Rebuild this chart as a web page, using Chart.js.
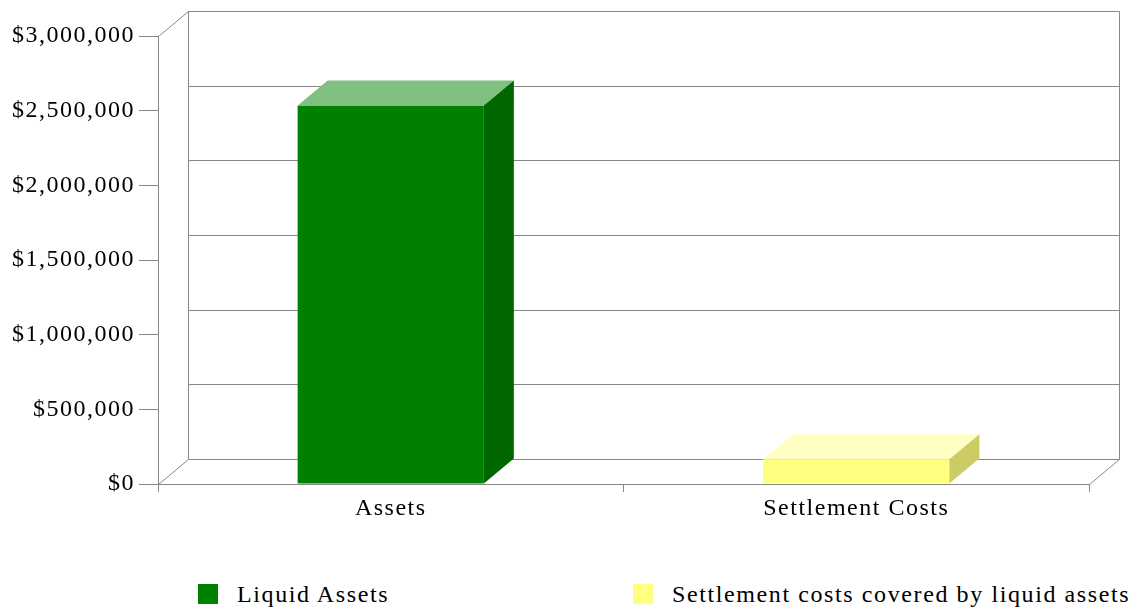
<!DOCTYPE html>
<html>
<head>
<meta charset="utf-8">
<script src="https://cdn.jsdelivr.net/npm/chart.js@4.4.1/dist/chart.umd.min.js"></script>
<style>
  body { margin: 0; background: #fff; }
  #wrap { position: relative; width: 1133px; height: 609px; overflow: hidden; }
  #chartBox { position: absolute; left: 0; top: 0; width: 1133px; height: 570px; }
  #legend { position: absolute; top: 582px; left: 0; width: 1133px; height: 24px;
            font-family: 'Liberation Serif', 'Times New Roman', serif; font-size: 24px;
            letter-spacing: 1.6px; color: #000; }
  .item { position: absolute; top: 0; display: flex; align-items: center; height: 24px; line-height: 24px; white-space: nowrap; }
  .swatch { width: 20px; height: 20px; margin-right: 19px; }
</style>
</head>
<body>
<div id="wrap">
  <div id="chartBox"><canvas id="barChart"></canvas></div>
  <div id="legend"></div>
</div>
<script>
// DATA
const categories = ["Assets", "Settlement Costs"];
const seriesNames = ["Liquid Assets", "Settlement costs covered by liquid assets"];
const liquidAssets = [2535000, null];
const settlementCovered = [null, 165000];
const yMax = 3000000;
const yStep = 500000;

// STYLE
const frontColors = ["#008000", "#ffff80"];
const topColors = ["#80c080", "#ffffc4"];
const sideColors = ["#006600", "#cccc66"];
const lineColor = "#888888";
const DX = 30; // depth offset, right
const DY = 25; // depth offset, up

Chart.defaults.font.family = "'Liberation Serif', 'Times New Roman', serif";
Chart.defaults.color = "#000";

// letter spacing on the canvas text (canvas state resets on resize)
const spacing = {
  id: "spacing",
  beforeLayout(chart) { chart.ctx.letterSpacing = "1.5px"; },
  beforeDraw(chart) { chart.ctx.letterSpacing = "1.5px"; }
};

const px = v => Math.round(v) + 0.5;

// back wall, floor and side edges of the 3D box
const depth3d = {
  id: "depth3d",
  beforeDatasetsDraw(chart) {
    const ctx = chart.ctx;
    const a = chart.chartArea;
    const y = chart.scales.y;
    ctx.save();
    ctx.strokeStyle = lineColor;
    ctx.lineWidth = 1;
    ctx.beginPath();
    y.ticks.forEach(t => {
      const py = px(y.getPixelForValue(t.value) - DY);
      ctx.moveTo(px(a.left + DX), py);
      ctx.lineTo(px(a.right + DX), py);
    });
    ctx.moveTo(px(a.left + DX), px(a.top - DY));
    ctx.lineTo(px(a.left + DX), px(a.bottom - DY));
    ctx.moveTo(px(a.right + DX), px(a.top - DY));
    ctx.lineTo(px(a.right + DX), px(a.bottom - DY));
    ctx.moveTo(px(a.left), px(a.top));
    ctx.lineTo(px(a.left + DX), px(a.top - DY));
    ctx.moveTo(px(a.left), px(a.bottom));
    ctx.lineTo(px(a.left + DX), px(a.bottom - DY));
    ctx.moveTo(px(a.right), px(a.bottom));
    ctx.lineTo(px(a.right + DX), px(a.bottom - DY));
    ctx.stroke();
    ctx.restore();
  },
  afterDatasetsDraw(chart) {
    const ctx = chart.ctx;
    ctx.save();
    chart.data.datasets.forEach((ds, i) => {
      chart.getDatasetMeta(i).data.forEach((bar, j) => {
        if (ds.data[j] == null) return;
        const p = bar.getProps(["x", "y", "base", "width"], true);
        const l = p.x - p.width / 2, r = p.x + p.width / 2;
        // top face
        ctx.fillStyle = topColors[i];
        ctx.beginPath();
        ctx.moveTo(l, p.y);
        ctx.lineTo(l + DX, p.y - DY);
        ctx.lineTo(r + DX, p.y - DY);
        ctx.lineTo(r, p.y);
        ctx.closePath();
        ctx.fill();
        // side face
        ctx.fillStyle = sideColors[i];
        ctx.beginPath();
        ctx.moveTo(r, p.y);
        ctx.lineTo(r + DX, p.y - DY);
        ctx.lineTo(r + DX, p.base - DY);
        ctx.lineTo(r, p.base);
        ctx.closePath();
        ctx.fill();
      });
    });
    ctx.restore();
  }
};

const chart = new Chart(document.querySelector("#barChart"), {
  type: "bar",
  data: {
    labels: categories,
    datasets: [{
      label: seriesNames[0],
      data: liquidAssets,
      backgroundColor: frontColors[0]
    }, {
      label: seriesNames[1],
      data: settlementCovered,
      backgroundColor: frontColors[1]
    }]
  },
  options: {
    responsive: true,
    maintainAspectRatio: false,
    animation: false,
    grouped: false,
    barPercentage: 0.4,
    categoryPercentage: 1.0,
    layout: { padding: { top: 36, right: 44, left: 0, bottom: 0 } },
    plugins: {
      legend: { display: false },
      tooltip: { enabled: false }
    },
    scales: {
      x: {
        grid: { drawOnChartArea: false, tickLength: 8, color: lineColor, offset: true },
        border: { display: true, color: lineColor },
        ticks: { font: { size: 24 }, padding: 2 },
        afterFit: s => { s.height = 86; }
      },
      y: {
        min: 0,
        max: yMax,
        grid: { drawOnChartArea: false, tickLength: 19, color: lineColor },
        border: { display: true, color: lineColor },
        ticks: {
          stepSize: yStep,
          padding: 4,
          font: { size: 24 },
          callback: v => "$" + Number(v).toLocaleString("en-US")
        },
        afterFit: s => { s.width = 158; }
      }
    }
  },
  plugins: [spacing, depth3d]
});

// LEGEND (html, spread like the original)
const legendLeft = [198, 633];
const legend = document.querySelector("#legend");
chart.data.datasets.forEach((ds, i) => {
  const item = document.createElement("div");
  item.className = "item";
  item.style.left = legendLeft[i] + "px";
  const sw = document.createElement("span");
  sw.className = "swatch";
  sw.style.background = ds.backgroundColor;
  const txt = document.createElement("span");
  txt.textContent = ds.label;
  item.appendChild(sw);
  item.appendChild(txt);
  legend.appendChild(item);
});
</script>
</body>
</html>
